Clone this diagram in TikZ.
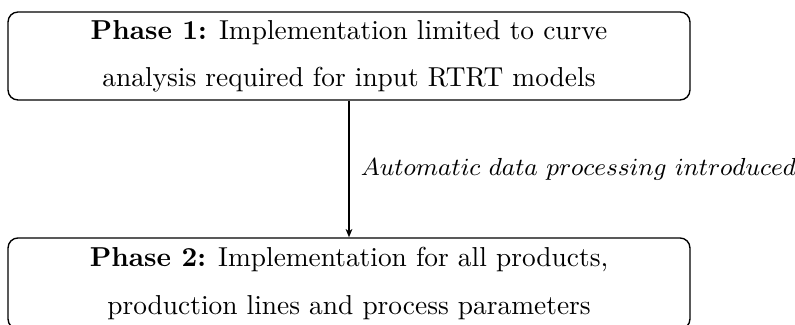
\documentclass[tikz,border=0pt]{standalone}
\usetikzlibrary{arrows.meta}
\begin{document}
\begin{tikzpicture}[x=0.365pt,y=-0.365pt,
  phasebox/.style={draw, rounded corners=3.6pt, line width=0.5pt,
    minimum width=248.9pt, inner sep=0pt,
    align=center, font={\fontsize{10}{17.2}\selectfont}},
  flow/.style={-{Stealth[length=3pt,width=2.4pt,inset=0.8pt]}, line width=0.7pt},
  flowlabel/.style={right, inner sep=4pt, font=\small}]
  \useasboundingbox (0,0) rectangle (795,325);
  \clip (0,0) rectangle (795,325);
  \node[phasebox, minimum height=32.1pt] (p1) at (349,56)
    {\textbf{Phase 1:} Implementation limited to curve\\
     analysis required for input RTRT models};
  \node[phasebox, minimum height=33.2pt] (p2) at (349,283.5)
    {\textbf{Phase 2:} Implementation for all products,\\
     production lines and process parameters};
  \draw[flow] (p1.south) -- node[flowlabel]
    {$Automatic\ data\ processing\ introduced$} (p2.north);
\end{tikzpicture}
\end{document}
